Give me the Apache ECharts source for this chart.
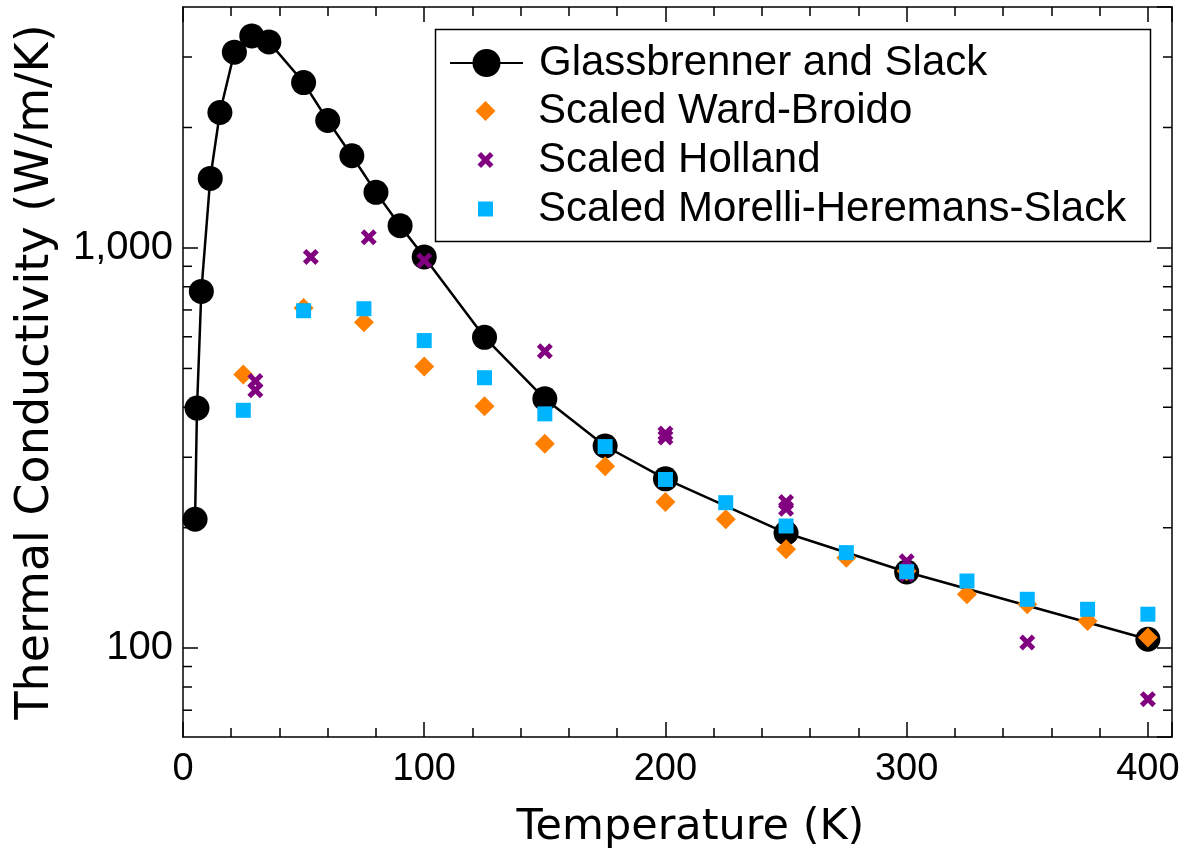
<!DOCTYPE html>
<html><head><meta charset="utf-8">
<script src="https://cdn.jsdelivr.net/npm/echarts@6/dist/echarts.min.js"></script>
<style>html,body{margin:0;padding:0;background:#fff}#c{width:1188px;height:855px}</style>
</head><body><div id="c"></div>
<script>
// ---- data ----
const seriesNames = ['Glassbrenner and Slack', 'Scaled Ward-Broido', 'Scaled Holland', 'Scaled Morelli-Heremans-Slack'];
const gsTemps  = [5, 5.8, 7.6, 11.3, 15.3, 21.3, 28.5, 35.6, 50, 60, 70, 80, 90, 100, 125, 150, 175, 200, 250, 300, 400];
const gsValues = [210, 398, 779, 1492, 2180, 3084, 3387, 3272, 2590, 2082, 1700, 1377, 1137, 950, 598, 420, 320, 265, 194, 155, 105.3];
const scaledTemps   = [25, 50, 75, 100, 125, 150, 175, 200, 225, 250, 275, 300, 325, 350, 375, 400];
const wardValues    = [483, 708, 652, 506, 402.5, 324, 285, 232, 210, 176.6, 168.3, 156, 136.4, 128.8, 117, 106.4];
const morelliValues = [393, 697, 705, 587, 474, 385, 319, 264, 231, 202, 173.3, 155.3, 147.2, 132.5, 125.1, 121.6];
const hollandTemps  = [30, 30, 53, 77, 100, 150, 200, 200, 250, 250, 300, 300, 350, 400];
const hollandValues = [465, 441, 950, 1063, 930, 552, 344, 336, 232, 223, 165, 153, 103.3, 74.6];
const yMinorTickValues = [70, 80, 90, 200, 300, 400, 500, 600, 700, 800, 900, 2000, 3000];
const X_MIN = 0, X_MAX = 410, X_INTERVAL = 100;
const Y_MIN = 60, Y_MAX = 4000;

const zip = (a, b) => a.map((v, i) => [v, b[i]]);
const FONT = 'Liberation Sans, Arial, sans-serif';
const TITLE_FONT = 'DejaVu Sans, sans-serif';
const crossPath = 'path://M0,2.2 L2.2,0 L5,2.8 L7.8,0 L10,2.2 L7.2,5 L10,7.8 L7.8,10 L5,7.2 L2.2,10 L0,7.8 L2.8,5 Z';

const chart = echarts.init(document.getElementById('c'), null, {renderer: 'canvas'});

const baseX = {
  type: 'value', min: X_MIN, max: X_MAX, interval: X_INTERVAL,
  axisLine: {show: true, onZero: false, lineStyle: {color: '#000', width: 1.5}},
  axisTick: {show: true, inside: true, length: 15, lineStyle: {color: '#000', width: 1.5}},
  minorTick: {show: true, splitNumber: 5, length: 9, lineStyle: {color: '#000', width: 1.5}},
  splitLine: {show: false}, minorSplitLine: {show: false}
};
const baseY = {
  type: 'log', logBase: 10, min: Y_MIN, max: Y_MAX,
  axisLine: {show: true, onZero: false, lineStyle: {color: '#000', width: 1.5}},
  axisTick: {show: true, inside: true, length: 15, lineStyle: {color: '#000', width: 1.5}},
  splitLine: {show: false}
};

// legend: icon centre at x = 485.5, text starts at x = 538
const ICON_CX = 485.5, TEXT_X = 538;
function legendFor(idx, size, top, isLine) {
  const w = isLine ? 73 : size;
  const left = ICON_CX - w / 2;
  const pad = TEXT_X - (left + w + 5);
  return {
    left: left, top: top, padding: 0, itemWidth: w, itemHeight: size, selectedMode: false,
    symbolKeepAspect: true,
    textStyle: {fontFamily: FONT, fontSize: 42, color: '#000', padding: [0, 0, 0, pad]},
    data: [seriesNames[idx]]
  };
}

const option = {
  animation: false,
  backgroundColor: '#fff',
  grid: {left: 183, right: 16, top: 7, bottom: 118, containLabel: false},
  xAxis: [
    Object.assign({}, baseX, {
      position: 'bottom',
      name: 'Temperature (K)', nameLocation: 'middle', nameGap: 69,
      nameTextStyle: {fontFamily: TITLE_FONT, fontSize: 43, color: '#000', padding: [0, 0, 0, 26]},
      axisLabel: {show: true, margin: 14, fontFamily: FONT, fontSize: 38, color: '#000'}
    }),
    Object.assign({}, baseX, {position: 'top', axisLabel: {show: false}})
  ],
  yAxis: [
    Object.assign({}, baseY, {
      position: 'left',
      name: 'Thermal Conductivity (W/m/K)', nameLocation: 'middle', nameGap: 124,
      nameTextStyle: {fontFamily: TITLE_FONT, fontSize: 46, color: '#000'},
      axisLabel: {show: true, margin: 10, fontFamily: FONT, fontSize: 40, color: '#000',
        showMinLabel: false, showMaxLabel: false,
        formatter: v => Number(v).toLocaleString('en-US')}
    }),
    Object.assign({}, baseY, {position: 'right', axisLabel: {show: false}})
  ],
  legend: [
    legendFor(0, 35, 42, true),
    legendFor(1, 20, 90, false),
    legendFor(2, 16, 139, false),
    legendFor(3, 15, 188, false)
  ],
  graphic: [{
    type: 'rect', left: 433, top: 27, z: 50,
    shape: {width: 715, height: 212},
    style: {fill: 'none', stroke: '#000', lineWidth: 1.5}
  }],
  series: [
    {
      name: 'yMinorTicks', type: 'custom', silent: true, xAxisIndex: 0, yAxisIndex: 0,
      data: yMinorTickValues.map(v => [X_MIN, v]),
      encode: {x: 0, y: 1}, clip: false, z: 1,
      renderItem: (params, api) => {
        const v = api.value(1);
        const pL = api.coord([X_MIN, v]);
        const pR = api.coord([X_MAX, v]);
        const st = {stroke: '#000', lineWidth: 1.5};
        return {type: 'group', children: [
          {type: 'line', shape: {x1: pL[0], y1: pL[1], x2: pL[0] + 9, y2: pL[1]}, style: st},
          {type: 'line', shape: {x1: pR[0] - 9, y1: pR[1], x2: pR[0], y2: pR[1]}, style: st}
        ]};
      }
    },
    {
      name: seriesNames[0], type: 'line', data: zip(gsTemps, gsValues),
      symbol: 'circle', symbolSize: 25, showSymbol: true,
      lineStyle: {color: '#000', width: 2.5}, itemStyle: {color: '#000'}, z: 2
    },
    {
      name: seriesNames[1], type: 'scatter', data: zip(scaledTemps, wardValues),
      symbol: 'diamond', symbolSize: 20, itemStyle: {color: '#ff8000', opacity: 1}, z: 3
    },
    {
      name: seriesNames[2], type: 'scatter', data: zip(hollandTemps, hollandValues),
      symbol: crossPath, symbolSize: 16, itemStyle: {color: '#800080', opacity: 1}, z: 4
    },
    {
      name: seriesNames[3], type: 'scatter', data: zip(scaledTemps, morelliValues),
      symbol: 'rect', symbolSize: 15, itemStyle: {color: '#00b4ff', opacity: 1}, z: 5
    }
  ]
};
chart.setOption(option);
</script>
</body></html>
